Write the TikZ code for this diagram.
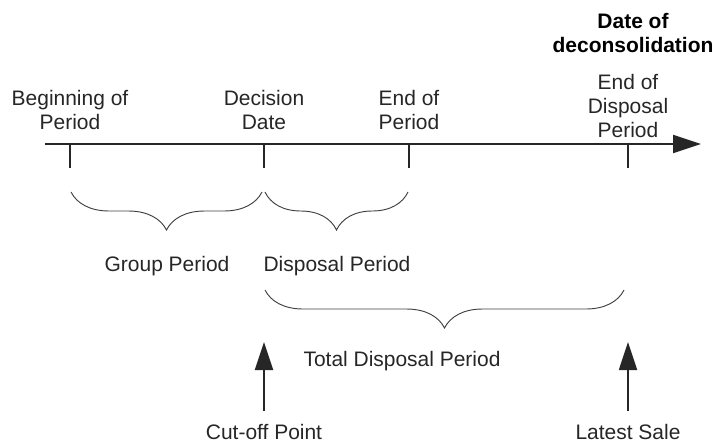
\documentclass[tikz,border=0pt]{standalone}
\usepackage{fontspec}
\setmainfont{Liberation Sans}
\usetikzlibrary{arrows.meta,decorations.pathreplacing}

\begin{document}
\begin{tikzpicture}[x=0.03cm,y=0.03cm,
	lbl/.style={align=center,inner sep=0pt,text=black!85,font=\fontsize{17.9}{20.9}\selectfont},
	tickmark/.style={line width=1.6pt,black!85},
	curly/.style={line width=0.8pt,black!75,decorate,decoration={brace,mirror,amplitude=1.14cm}},
	pointer/.style={line width=1.6pt,black!85,-{Triangle[length=0.84cm,width=0.54cm]}}]
	\useasboundingbox (0,0) rectangle (713,-444);
	% time axis
	\coordinate (axstart) at (45,-144);
	\coordinate (axend) at (701,-144);
	\draw[pointer] (axstart) -- (axend);
	% points on the axis
	\coordinate (begin) at (70,-144);
	\coordinate (decision) at (264,-144);
	\coordinate (endper) at (409,-144);
	\coordinate (enddisp) at (628,-144);
	\foreach \p in {begin,decision,endper,enddisp}
		\draw[tickmark] (\p) -- ++(0,-24);
	% labels above the axis
	\node[lbl] (beginlbl) at (70,-110) {Beginning of\\Period};
	\node[lbl] (decisionlbl) at (264,-110) {Decision\\Date};
	\node[lbl] (endperlbl) at (409,-110) {End of\\Period};
	\node[lbl] (enddisplbl) at (628,-106) {End of\\Disposal\\Period};
	\node[lbl,font=\fontsize{17.9}{20.9}\selectfont\bfseries,text=black] (deconsol) at (633,-33) {Date of\\deconsolidation};
	% braces
	\draw[curly] (71,-192) -- (262,-192);
	\draw[curly] (265,-192) -- (408,-192);
	\draw[curly] (265,-290) -- (624,-290);
	\node[lbl] (group) at (167,-266) {Group Period};
	\node[lbl] (disposal) at (337,-266) {Disposal Period};
	\node[lbl] (total) at (402,-361) {Total Disposal Period};
	% sale arrows
	\node[lbl] (cutoff) at (264,-432) {Cut-off Point};
	\node[lbl] (latest) at (628,-432) {Latest Sale};
	\coordinate (cutfoot) at (264,-411);
	\coordinate (cuttip) at (264,-342);
	\coordinate (latefoot) at (628,-411);
	\coordinate (latetip) at (628,-342);
	\draw[pointer] (cutfoot) -- (cuttip);
	\draw[pointer] (latefoot) -- (latetip);
\end{tikzpicture}
\end{document}
